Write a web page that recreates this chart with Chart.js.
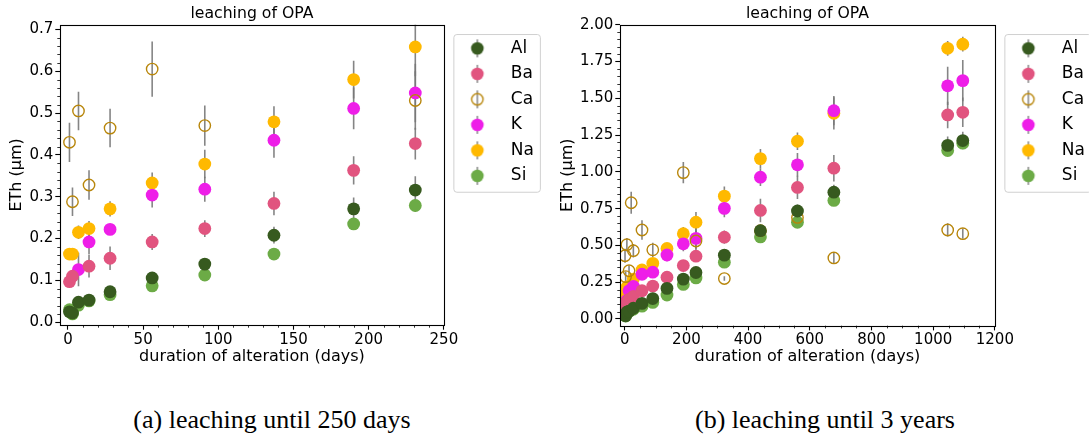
<!DOCTYPE html>
<html>
<head>
<meta charset="utf-8">
<script src="https://cdn.jsdelivr.net/npm/chart.js@4.4.1/dist/chart.umd.min.js"></script>
<style>
html,body{margin:0;padding:0;background:#fff;overflow:hidden;width:1089px;height:437px;}
#cA{position:absolute;left:0;top:0;}
#cB{position:absolute;left:550px;top:0;}
.cap{position:absolute;top:405px;font-family:"Liberation Serif","Times New Roman",serif;font-size:26px;line-height:30px;color:#000;white-space:nowrap;transform:translateX(-50%);}
</style>
</head>
<body>
<canvas id="cA" width="544" height="380"></canvas>
<canvas id="cB" width="545" height="380"></canvas>
<div class="cap" style="left:272px">(a) leaching until 250 days</div>
<div class="cap" style="left:825px">(b) leaching until 3 years</div>
<script>
// ---------------- data ----------------
const days   = [1, 3, 7, 14, 28, 56, 91, 137, 190, 231, 323, 440, 560, 678, 1047, 1096];
const caDays = [1, 3, 7, 14, 21, 28, 56, 91, 190, 231, 323, 440, 560, 678, 1047, 1096];

const alVals = [0.025, 0.022, 0.048, 0.053, 0.073, 0.106, 0.139, 0.208, 0.271, 0.316, 0.434, 0.600, 0.734, 0.862, 1.180, 1.213];
const alErr  = [0.003, 0.003, 0.005, 0.005, 0.006, 0.008, 0.010, 0.020, 0.027, 0.033, 0.030, 0.040, 0.045, 0.050, 0.060, 0.060];

const baVals = [0.097, 0.110, null, 0.134, 0.153, 0.192, 0.224, 0.284, 0.363, 0.427, 0.556, 0.738, 0.894, 1.025, 1.387, 1.405];
const baErr  = [0.008, 0.012, null, 0.027, 0.028, 0.019, 0.020, 0.028, 0.034, 0.038, 0.045, 0.080, 0.079, 0.090, 0.090, 0.100];

const caVals = [0.430, 0.288, 0.505, 0.328, 0.790, 0.464, 0.605, 0.470, 0.995, 0.530, 0.275, 0.600, 0.690, 0.415, 0.605, 0.580];
const caErr  = [0.047, 0.034, 0.046, 0.035, 0.075, 0.046, 0.066, 0.048, 0.072, 0.070, 0.015, 0.020, 0.025, 0.040, 0.045, 0.035];

const kVals  = [null, null, 0.126, 0.192, 0.222, 0.304, 0.318, 0.435, 0.511, 0.548, 0.752, 0.964, 1.048, 1.416, 1.585, 1.620];
const kErr   = [null, null, 0.040, 0.030, 0.012, 0.030, 0.030, 0.042, 0.050, 0.070, 0.060, 0.060, 0.080, 0.100, 0.130, 0.140];

const naVals = [0.163, 0.163, 0.215, 0.224, 0.271, 0.333, 0.378, 0.479, 0.580, 0.658, 0.835, 1.090, 1.208, 1.398, 1.840, 1.868];
const naErr  = [0.012, 0.012, 0.016, 0.018, 0.018, 0.025, 0.034, 0.037, 0.045, 0.070, 0.065, 0.065, 0.060, 0.110, 0.050, 0.050];

const siVals = [0.030, 0.020, 0.041, 0.051, 0.066, 0.087, 0.113, 0.163, 0.235, 0.279, 0.386, 0.558, 0.657, 0.806, 1.145, 1.195];
const siErr  = [0.003, 0.003, 0.004, 0.004, 0.005, 0.006, 0.008, 0.010, 0.012, 0.015, 0.015, 0.020, 0.020, 0.020, 0.035, 0.040];

const leftXTicks  = [0, 50, 100, 150, 200, 250];
const leftXLabels = ['0', '50', '100', '150', '200', '250'];
const leftYTicks  = [0, 0.1, 0.2, 0.3, 0.4, 0.5, 0.6, 0.7];
const leftYLabels = ['0.0', '0.1', '0.2', '0.3', '0.4', '0.5', '0.6', '0.7'];
const rightXTicks  = [0, 200, 400, 600, 800, 1000, 1200];
const rightXLabels = ['0', '200', '400', '600', '800', '1000', '1200'];
const rightYTicks  = [0, 0.25, 0.5, 0.75, 1.0, 1.25, 1.5, 1.75, 2.0];
const rightYLabels = ['0.00', '0.25', '0.50', '0.75', '1.00', '1.25', '1.50', '1.75', '2.00'];

const chartTitle = 'leaching of OPA';
const xTitle = 'duration of alteration (days)';
const yTitle = 'ETh (\u00b5m)';

// ---------------- styles ----------------
const FONT = "'DejaVu Sans', sans-serif";
const COLORS = { Al: '#375a1f', Ba: '#e1547f', Ca: '#b8860b', K: '#ee1ee8', Na: '#ffb900', Si: '#6cab46' };
const ERR_COLOR = 'rgba(120,120,120,0.9)';
const LEG_FONT = 17, LEG_PAD = 8.5;

Chart.defaults.font.family = FONT;
Chart.defaults.color = '#000';

function legendIcon(color, open) {
  const c = document.createElement('canvas');
  c.width = 16; c.height = 22;
  const g = c.getContext('2d');
  g.strokeStyle = ERR_COLOR; g.lineWidth = 1.5;
  g.beginPath(); g.moveTo(8, 2); g.lineTo(8, 20); g.stroke();
  g.beginPath(); g.arc(8, 11, open ? 5.7 : 6.3, 0, Math.PI * 2);
  if (open) { g.strokeStyle = color; g.lineWidth = 1.4; g.stroke(); }
  else { g.fillStyle = color; g.fill(); }
  return c;
}

function makeDatasets() {
  const defs = [
    { label: 'Al', x: days,   y: alVals, e: alErr, open: false },
    { label: 'Ba', x: days,   y: baVals, e: baErr, open: false },
    { label: 'Ca', x: caDays, y: caVals, e: caErr, open: true },
    { label: 'K',  x: days,   y: kVals,  e: kErr,  open: false },
    { label: 'Na', x: days,   y: naVals, e: naErr, open: false },
    { label: 'Si', x: days,   y: siVals, e: siErr, open: false }
  ];
  return defs.map(d => {
    const pts = [], errs = [];
    d.x.forEach((xv, i) => {
      if (d.y[i] !== null) { pts.push({ x: xv, y: d.y[i] }); errs.push(d.e[i]); }
    });
    const col = COLORS[d.label];
    return {
      label: d.label, data: pts, errors: errs, showLine: false, clip: 0,
      icon: legendIcon(col, d.open),
      pointRadius: d.open ? 5.7 : 6.4, pointHoverRadius: d.open ? 5.7 : 6.4,
      pointBackgroundColor: d.open ? 'rgba(0,0,0,0)' : col,
      pointBorderColor: col, pointBorderWidth: d.open ? 1.4 : 0,
      backgroundColor: d.open ? 'rgba(0,0,0,0)' : col, borderColor: col
    };
  });
}

const errorBarPlugin = {
  id: 'errorBars',
  beforeDatasetsDraw(chart) {
    const { ctx, chartArea: a } = chart;
    const xs = chart.scales.x, ys = chart.scales.y;
    ctx.save();
    ctx.beginPath(); ctx.rect(a.left, a.top, a.right - a.left, a.bottom - a.top); ctx.clip();
    ctx.strokeStyle = ERR_COLOR; ctx.lineWidth = 1.6;
    chart.data.datasets.forEach(ds => {
      ds.data.forEach((p, i) => {
        const e = ds.errors[i];
        if (!e) return;
        const px = xs.getPixelForValue(p.x);
        ctx.beginPath();
        ctx.moveTo(px, ys.getPixelForValue(p.y - e));
        ctx.lineTo(px, ys.getPixelForValue(p.y + e));
        ctx.stroke();
      });
    });
    ctx.restore();
  }
};

const framePlugin = {
  id: 'frame',
  beforeDraw(chart) {
    const lg = chart.legend;
    if (!lg) return;
    const pad = lg.options.labels.padding;
    const th = lg._computeTitleHeight();
    const cx = lg.left + pad;
    const top = lg.top + th + pad;
    const n = chart.data.datasets.length;
    const x0 = cx + 1, y0 = top - 5.8, w = 86.5, h = (n - 1) * (LEG_FONT + LEG_PAD) + 24.4 + 5.8;
    const ctx = chart.ctx;
    ctx.save();
    ctx.fillStyle = 'rgba(255,255,255,0.8)';
    ctx.strokeStyle = '#d0d0d0';
    ctx.lineWidth = 1;
    ctx.beginPath();
    if (ctx.roundRect) ctx.roundRect(x0 + 0.5, y0 + 0.5, w, h, 3); else ctx.rect(x0 + 0.5, y0 + 0.5, w, h);
    ctx.fill(); ctx.stroke();
    ctx.restore();
  },
  afterDraw(chart, args, opts) {
    const { ctx, chartArea: a } = chart;
    const xs = chart.scales.x, ys = chart.scales.y;
    ctx.save();
    ctx.strokeStyle = '#000';
    ctx.lineWidth = 0.8;
    const mx = opts.xMinor, my = opts.yMinor;
    for (let k = Math.ceil(xs.min / mx); k * mx <= xs.max + 1e-9; k++) {
      const v = k * mx;
      if (Math.abs(v / opts.xMajor - Math.round(v / opts.xMajor)) < 1e-6) continue;
      const px = Math.round(xs.getPixelForValue(v)) + 0.5;
      ctx.beginPath(); ctx.moveTo(px, a.bottom); ctx.lineTo(px, a.bottom + 2.7); ctx.stroke();
    }
    for (let k = Math.ceil(ys.min / my - 1e-9); k * my <= ys.max + 1e-9; k++) {
      const v = k * my;
      if (Math.abs(v / opts.yMajor - Math.round(v / opts.yMajor)) < 1e-6) continue;
      const py = Math.round(ys.getPixelForValue(v)) + 0.5;
      ctx.beginPath(); ctx.moveTo(a.left, py); ctx.lineTo(a.left - 2.7, py); ctx.stroke();
    }
    ctx.lineWidth = 1.1;
    ctx.strokeRect(Math.round(a.left) + 0.5, Math.round(a.top) + 0.5,
                   Math.round(a.right) - Math.round(a.left), Math.round(a.bottom) - Math.round(a.top));
    ctx.restore();
  }
};

function buildChart(canvasId, cfg) {
  return new Chart(document.getElementById(canvasId), {
    type: 'scatter',
    data: { datasets: makeDatasets() },
    plugins: [errorBarPlugin, framePlugin],
    options: {
      responsive: false, animation: false, devicePixelRatio: 1, events: [],
      layout: { padding: 0 },
      scales: {
        x: {
          type: 'linear', min: cfg.xMin, max: cfg.xMax,
          afterBuildTicks: s => { s.ticks = cfg.xTicks.map(v => ({ value: v })); },
          afterFit: s => { s.height = cfg.xAxisHeight; },
          ticks: { autoSkip: false, maxRotation: 0, padding: 1, color: '#000',
                   font: { family: FONT, size: 15 }, callback: (v, i) => cfg.xLabels[i] },
          grid: { display: true, drawOnChartArea: false, drawTicks: true, tickLength: 4.7, tickWidth: 1.1, tickColor: '#000' },
          border: { display: false },
          title: { display: true, text: xTitle, color: '#000', font: { family: FONT, size: 16 },
                   padding: { top: 0, bottom: cfg.xTitlePad } }
        },
        y: {
          type: 'linear', min: cfg.yMin, max: cfg.yMax,
          afterBuildTicks: s => { s.ticks = cfg.yTicks.map(v => ({ value: v })); },
          afterFit: s => { s.width = cfg.yAxisWidth; },
          ticks: { autoSkip: false, padding: 2, color: '#000',
                   font: { family: FONT, size: 15 }, callback: (v, i) => cfg.yLabels[i] },
          grid: { display: true, drawOnChartArea: false, drawTicks: true, tickLength: 4.7, tickWidth: 1.1, tickColor: '#000' },
          border: { display: false },
          title: { display: true, text: yTitle, color: '#000', font: { family: FONT, size: 16 },
                   padding: { top: cfg.yTitlePad, bottom: 0 } }
        }
      },
      plugins: {
        tooltip: { enabled: false },
        title: { display: true, text: chartTitle, color: '#000', fullSize: false,
                 font: { family: FONT, size: 15.7, weight: 'normal' }, padding: { top: 4.6, bottom: 1.3 } },
        legend: {
          display: true, position: 'right', align: 'start', fullSize: false,
          title: { display: true, text: '', font: { size: 5 }, padding: { top: 0.6, bottom: 0 } },
          labels: {
            usePointStyle: true, pointStyleWidth: 50, padding: LEG_PAD, color: '#000',
            font: { family: FONT, size: LEG_FONT },
            generateLabels: chart => chart.data.datasets.map((ds, i) => ({
              text: ds.label, pointStyle: ds.icon, datasetIndex: i, hidden: false,
              fillStyle: ds.backgroundColor, strokeStyle: ds.borderColor, lineWidth: 0, fontColor: '#000'
            }))
          }
        },
        frame: cfg.minor
      }
    }
  });
}

buildChart('cA', {
  xMin: -5.3, xMax: 250, yMin: -0.0065, yMax: 0.711,
  xTicks: leftXTicks, xLabels: leftXLabels, yTicks: leftYTicks, yLabels: leftYLabels,
  xAxisHeight: 55, yAxisWidth: 60, xTitlePad: 13.4, yTitlePad: 7.6,
  minor: { xMinor: 10, xMajor: 50, yMinor: 0.02, yMajor: 0.1 }
});
buildChart('cB', {
  xMin: -15.3, xMax: 1200, yMin: -0.0456, yMax: 2.0,
  xTicks: rightXTicks, xLabels: rightXLabels, yTicks: rightYTicks, yLabels: rightYLabels,
  xAxisHeight: 54.3, yAxisWidth: 70, xTitlePad: 13.4, yTitlePad: 8.4,
  minor: { xMinor: 50, xMajor: 200, yMinor: 0.05, yMajor: 0.25 }
});
</script>
</body>
</html>
